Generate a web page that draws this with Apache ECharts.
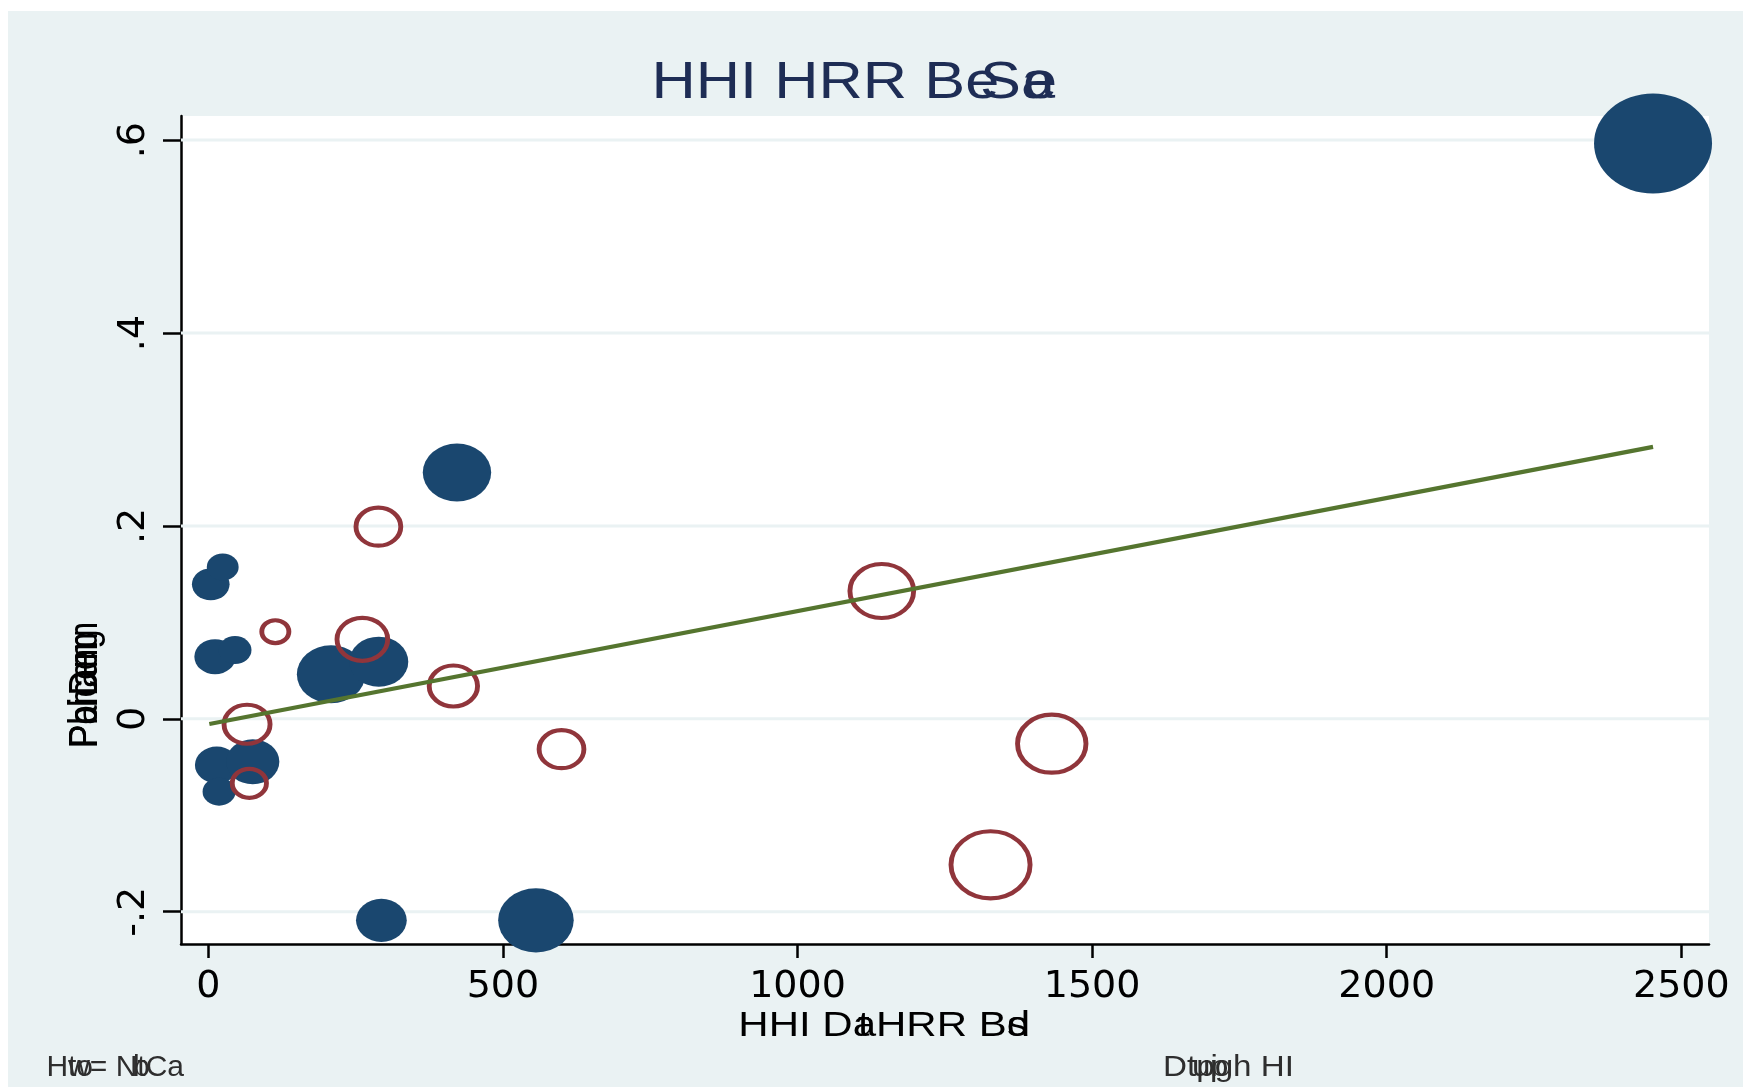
<!DOCTYPE html>
<html><head><meta charset="utf-8">
<script src="https://cdn.jsdelivr.net/npm/echarts@6/dist/echarts.min.js"></script>
<style>
html,body{margin:0;padding:0;background:#fff;}
#bg{position:absolute;left:8px;top:11px;width:1735px;height:1076px;background:#EAF2F3;}
#c{position:absolute;left:0;top:0;width:1743px;height:1087px;}
</style>
</head><body><div id="bg"></div><div id="c"></div>
<script>
// ---- data ----
const xTicks = [0, 500, 1000, 1500, 2000, 2500];
const xTickLabels = ['0', '500', '1000', '1500', '2000', '2500'];
const yTicks = [-0.2, 0, 0.2, 0.4, 0.6];
const yTickLabels = ['-.2', '0', '.2', '.4', '.6'];

// solid (navy) bubbles: x, y, weight
const solidX = [4.1, 24.4, 11.4, 45.3, 208.3, 289.3, 14.3, 75.4, 18.2, 422, 293.7, 556, 2452];
const solidY = [0.1394, 0.1574, 0.0644, 0.0713, 0.0461, 0.0592, -0.0479, -0.0445, -0.0756, 0.2554, -0.209, -0.209, 0.5965];
const solidW = [10.2, 7.3, 12.3, 7.8, 33.6, 25, 13.7, 20.3, 7.8, 33.6, 18.5, 41, 100];

// hollow (maroon) bubbles: x, y, weight
const hollowX = [113.7, 261.4, 415.9, 65.7, 69.6, 288.6, 1143, 599.4, 1431.5, 1327.6];
const hollowY = [0.0903, 0.0824, 0.034, -0.0057, -0.0669, 0.1992, 0.1325, -0.0315, -0.0258, -0.1514];
const hollowW = [5.5, 18.9, 17.2, 15.6, 8.7, 14.8, 29.7, 14.8, 34.2, 45.6];

// fitted line
const fitX = [1.7, 2452];
const fitY = [-0.0054, 0.2819];

// ---- chart ----
const chart = echarts.init(document.getElementById('c'), null, {renderer: 'canvas'});
const STRETCH = 1.18;
const sizeFn = v => { const d = 10 * Math.sqrt(v[2]); return [d * STRETCH, d]; };
const hollowSizeFn = v => { const d = 10 * Math.sqrt(v[2]) - 0.5; return [d * STRETCH, d]; };

function lbl(ticks, labels) {
  return v => { const i = ticks.findIndex(t => Math.abs(t - v) < 1e-9); return i >= 0 ? labels[i] : ''; };
}

const FONT = 'Liberation Sans';
function T(text, x, y, size, fill, sx, extra, align) {
  return Object.assign({
    type: 'text', x: x, y: y, scaleX: sx || 1, scaleY: 1, silent: true, z: 100,
    style: {text: text, fontSize: size, fontFamily: FONT, fill: fill, align: align || 'left', verticalAlign: 'middle'}
  }, extra || {});
}
const titleC = 'rgb(30,45,85)';
const noteC = '#2e2e2e';

const graphics = [
  // title
  T('HHI HRR Be', 651.5, 84, 52, titleC, STRETCH),
  T('Sa', 980, 84, 52, titleC, STRETCH),
  T('e', 1023, 84, 52, titleC, STRETCH),
  // x axis title
  T('HHI DaHRR Bd', 738.3, 1026, 35, '#000', 1.2),
  T('t', 858, 1026, 35, '#000', 1.2),
  T('s', 1007, 1026, 35, '#000', 1.2),
  // notes (right-aligned main strings)
  T('Hw= NtCa', 184, 1068, 30, noteC, 1.0, null, 'right'),
  T('to', 68, 1068, 30, noteC, 1.0),
  T('b', 133, 1068, 30, noteC, 1.0),
  T('Dtpgh HI', 1294, 1068, 29, noteC, 1.145, null, 'right'),
  T('ui', 1192, 1068, 29, noteC, 1.145),
  T('p', 1210, 1068, 29, noteC, 1.145),
  // y axis title (rotated)
  T('Pchang', 86, 748, 35, '#000', 1, {rotation: Math.PI / 2, scaleY: STRETCH}),
  T('Pbicen', 86, 748, 35, '#000', 1, {rotation: Math.PI / 2, scaleY: STRETCH}),
  T('Pa Dem', 86, 748, 35, '#000', 1, {rotation: Math.PI / 2, scaleY: STRETCH})
];

const option = {
  backgroundColor: 'transparent',
  animation: false,
  grid: {left: 181, top: 116, width: 1528, height: 828, show: true, backgroundColor: '#fff',
         borderWidth: 0, containLabel: false, outerBoundsMode: 'none'},
  xAxis: {
    type: 'value', min: -46.4, max: 2547,
    axisLine: {show: true, onZero: false, lineStyle: {color: '#000', width: 2.5}},
    axisTick: {show: true, length: 14, customValues: xTicks, lineStyle: {color: '#000', width: 2.5}},
    axisLabel: {show: true, customValues: xTicks, formatter: lbl(xTicks, xTickLabels),
                fontSize: 38, fontFamily: 'DejaVu Sans', color: '#000', margin: 24},
    splitLine: {show: false}
  },
  yAxis: {
    type: 'value', min: -0.2335, max: 0.625,
    axisLine: {show: true, onZero: false, lineStyle: {color: '#000', width: 2.5}},
    axisTick: {show: true, length: 18, customValues: yTicks, lineStyle: {color: '#000', width: 2.5}},
    axisLabel: {show: true, customValues: yTicks, formatter: lbl(yTicks, yTickLabels), rotate: 90,
                fontSize: 38, fontFamily: 'DejaVu Sans', color: '#000', margin: 28},
    splitLine: {show: false}
  },
  series: [
    {
      type: 'custom', z: 1, silent: true,
      data: yTicks.map(v => [v]),
      renderItem: function (params, api) {
        const cs = params.coordSys;
        const y = api.coord([0, api.value(0)])[1];
        return {type: 'line', shape: {x1: cs.x, y1: y, x2: cs.x + cs.width, y2: y},
                style: {stroke: '#EAF2F3', lineWidth: 3}};
      }
    },
    {
      type: 'scatter', z: 2, silent: true,
      data: solidX.map((x, i) => [x, solidY[i], solidW[i]]),
      symbol: 'circle', symbolSize: sizeFn,
      itemStyle: {color: '#1a476f', opacity: 1},
      emphasis: {disabled: true}
    },
    {
      type: 'scatter', z: 3, silent: true,
      data: hollowX.map((x, i) => [x, hollowY[i], hollowW[i]]),
      symbol: 'circle', symbolSize: hollowSizeFn,
      itemStyle: {color: 'rgba(0,0,0,0)', borderColor: '#90353b', borderWidth: 4.5, opacity: 1},
      emphasis: {disabled: true}
    },
    {
      type: 'line', z: 4, silent: true,
      data: fitX.map((x, i) => [x, fitY[i]]),
      symbol: 'none', lineStyle: {color: '#55752f', width: 4.2},
      emphasis: {disabled: true}
    }
  ],
  graphic: graphics
};
chart.setOption(option);
</script>
</body></html>
